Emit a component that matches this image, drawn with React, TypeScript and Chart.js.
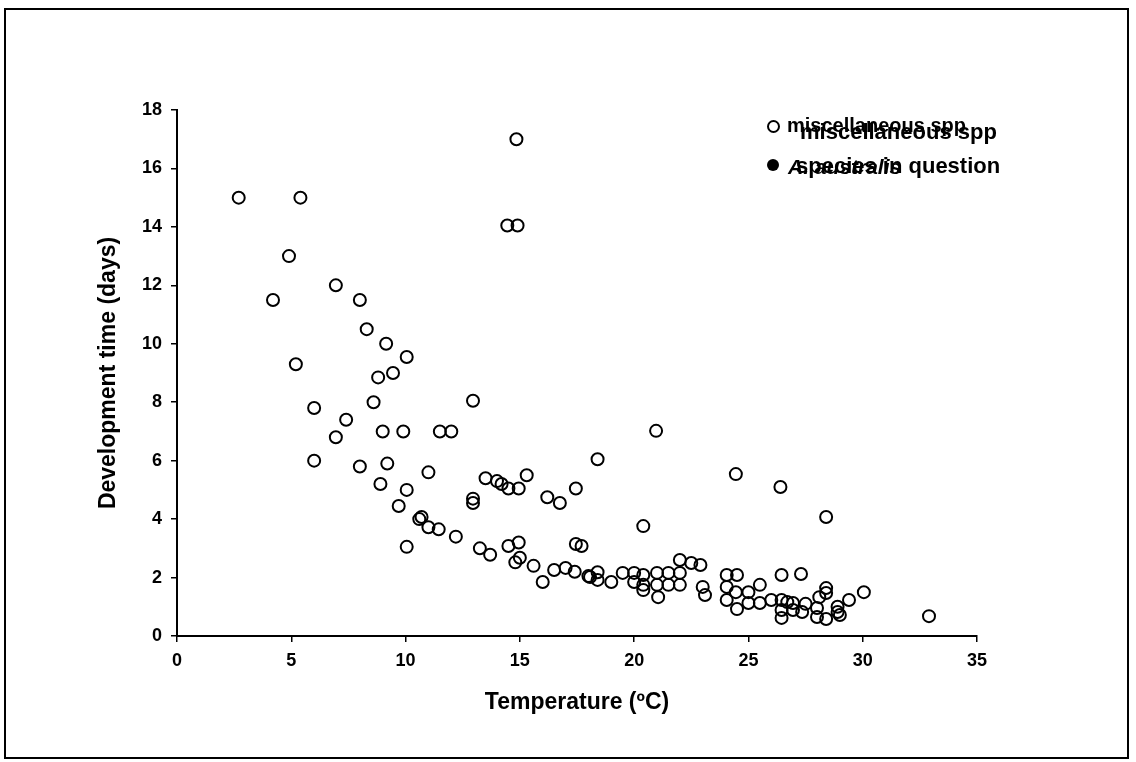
import React, { useEffect, useRef } from "react";
import { Chart, registerables } from "chart.js";

Chart.register(...registerables);

const temperature: number[] = [
  2.7, 5.4, 4.9, 4.2, 6.95, 8.0, 8.3, 9.15, 10.05, 5.2,
  8.8, 9.45, 8.6, 6.0, 7.4, 6.95, 9.0, 9.9, 6.0, 8.0,
  9.2, 11.0, 8.9, 10.05, 9.7, 11.5, 12.0, 12.95, 12.95, 12.95,
  13.5, 14.0, 14.2, 14.5, 14.95, 15.3, 16.2, 16.75, 17.45, 18.4,
  14.45, 14.9, 14.85, 10.6, 10.7, 11.0, 11.45, 12.2, 10.05, 13.25,
  13.7, 14.5, 14.95, 15.0, 14.8, 15.6, 16.0, 16.5, 17.0, 17.4,
  17.45, 17.7, 18.0, 18.4, 18.4, 19.0, 19.5, 20.0, 20.0, 20.4,
  20.4, 20.4, 20.96, 20.4, 21.0, 21.0, 21.05, 21.5, 21.5, 22.0,
  22.0, 22.0, 22.5, 22.9, 23.0, 23.1, 24.05, 24.05, 24.05, 24.5,
  24.45, 24.5, 25.0, 25.0, 25.5, 25.5, 26.0, 26.45, 26.45, 26.45,
  26.45, 26.7, 26.95, 26.95, 27.3, 27.35, 27.5, 28.0, 28.0, 28.1,
  28.4, 28.4, 28.4, 28.9, 28.9, 29.4, 24.45, 26.4, 28.4, 30.05,
  32.9, 18.07, 29.0,
];

const devTime: number[] = [
  15.0, 15.0, 13.0, 11.5, 12.0, 11.5, 10.5, 10.0, 9.55, 9.3,
  8.85, 9.0, 8.0, 7.8, 7.4, 6.8, 7.0, 7.0, 6.0, 5.8,
  5.9, 5.6, 5.2, 5.0, 4.45, 7.0, 7.0, 8.05, 4.7, 4.55,
  5.4, 5.3, 5.2, 5.05, 5.05, 5.5, 4.75, 4.55, 5.05, 6.05,
  14.05, 14.05, 17.0, 4.0, 4.07, 3.72, 3.65, 3.4, 3.05, 3.0,
  2.78, 3.08, 3.2, 2.68, 2.52, 2.4, 1.85, 2.26, 2.33, 2.2,
  3.15, 3.08, 2.05, 2.18, 1.92, 1.85, 2.16, 2.16, 1.85, 2.09,
  1.75, 1.57, 7.02, 3.76, 2.16, 1.75, 1.33, 2.16, 1.75, 2.6,
  2.16, 1.75, 2.5, 2.43, 1.68, 1.4, 2.09, 1.68, 1.23, 2.09,
  1.5, 0.92, 1.5, 1.13, 1.75, 1.13, 1.23, 2.09, 1.23, 0.89,
  0.62, 1.16, 1.13, 0.89, 2.12, 0.82, 1.1, 0.96, 0.65, 1.33,
  1.64, 1.47, 0.58, 1.0, 0.82, 1.23, 5.54, 5.1, 4.07, 1.5,
  0.68, 2.02, 0.72,
];

const speciesTemp: number[] = [];
const speciesTime: number[] = [];

const xTicks: number[] = [0, 5, 10, 15, 20, 25, 30, 35];
const yTicks: number[] = [0, 2, 4, 6, 8, 10, 12, 14, 16, 18];

const seriesNames: string[] = ["miscellaneous spp", "species in question"];
const altNames: string[] = ["miscellaneous spp", "A. australis"];

const FONT = "'Liberation Sans', Arial, sans-serif";

export default function App() {
  const ref = useRef<HTMLCanvasElement | null>(null);

  useEffect(() => {
    document.body.style.margin = "0";
    const canvas = ref.current;
    if (!canvas) return;
    const chart = new Chart(canvas, {
      type: "scatter",
      data: {
        datasets: [
          {
            label: seriesNames[0],
            data: temperature.map((t, i) => ({ x: t, y: devTime[i] })),
            pointRadius: 6,
            pointHoverRadius: 6,
            pointBorderWidth: 2,
            borderColor: "#000",
            backgroundColor: "rgba(0,0,0,0)",
          },
          {
            label: seriesNames[1],
            data: speciesTemp.map((t, i) => ({ x: t, y: speciesTime[i] })),
            pointRadius: 6,
            borderColor: "#000",
            backgroundColor: "#000",
          },
        ],
      },
      options: {
        animation: false,
        responsive: false,
        devicePixelRatio: 1,
        layout: { padding: { left: 77, top: 110, right: 159, bottom: 36 } },
        plugins: { legend: { display: false }, tooltip: { enabled: false } },
        scales: {
          x: {
            type: "linear",
            min: 0,
            max: 35,
            afterBuildTicks: (s: any) => {
              s.ticks = xTicks.map((v) => ({ value: v }));
            },
            afterFit: (s: any) => {
              s.height = 90;
            },
            grid: {
              display: true,
              drawOnChartArea: false,
              drawTicks: true,
              tickLength: 6,
              color: "#000",
              lineWidth: 1.5,
            },
            border: { display: true, color: "#000", width: 2 },
            ticks: {
              color: "#000",
              padding: 8,
              maxRotation: 0,
              font: { family: FONT, size: 18, weight: "bold" },
            },
            title: {
              display: true,
              text: "Temperature (ºC)",
              color: "#000",
              padding: { top: 0, bottom: 10 },
              font: { family: FONT, size: 23, weight: "bold" },
            },
          },
          y: {
            type: "linear",
            min: 0,
            max: 18,
            afterBuildTicks: (s: any) => {
              s.ticks = yTicks.map((v) => ({ value: v }));
            },
            afterFit: (s: any) => {
              s.width = 100;
            },
            grid: {
              display: true,
              drawOnChartArea: false,
              drawTicks: true,
              tickLength: 6,
              color: "#000",
              lineWidth: 1.5,
            },
            border: { display: true, color: "#000", width: 2 },
            ticks: {
              color: "#000",
              padding: 9,
              font: { family: FONT, size: 18, weight: "bold" },
            },
            title: {
              display: true,
              text: "Development time (days)",
              color: "#000",
              padding: { top: 18, bottom: 0 },
              font: { family: FONT, size: 23, weight: "bold" },
            },
          },
        },
      },
    });
    return () => chart.destroy();
  }, []);

  const textStyle: React.CSSProperties = {
    position: "absolute",
    fontFamily: FONT,
    fontWeight: "bold",
    color: "#000",
    whiteSpace: "nowrap",
    lineHeight: "1",
  };

  return (
    <div style={{ position: "relative", width: 1136, height: 762, background: "#fff", overflow: "hidden" }}>
      <canvas ref={ref} width={1136} height={762} style={{ position: "absolute", left: 0, top: 0 }} />
      <div
        style={{
          position: "absolute",
          left: 4,
          top: 8,
          width: 1125,
          height: 751,
          border: "2px solid #000",
          boxSizing: "border-box",
          pointerEvents: "none",
        }}
      />
      <div
        style={{
          position: "absolute",
          left: 767,
          top: 120,
          width: 13,
          height: 13,
          borderRadius: "50%",
          border: "2px solid #000",
          boxSizing: "border-box",
        }}
      />
      <div style={{ ...textStyle, left: 787, top: 115, fontSize: 20 }}>{altNames[0]}</div>
      <div style={{ ...textStyle, left: 800, top: 121, fontSize: 22 }}>{seriesNames[0]}</div>
      <div
        style={{
          position: "absolute",
          left: 767,
          top: 159,
          width: 12,
          height: 12,
          borderRadius: "50%",
          background: "#000",
        }}
      />
      <div style={{ ...textStyle, left: 788, top: 156, fontSize: 21, fontStyle: "italic" }}>{altNames[1]}</div>
      <div style={{ ...textStyle, left: 796, top: 155, fontSize: 22 }}>{seriesNames[1]}</div>
    </div>
  );
}
